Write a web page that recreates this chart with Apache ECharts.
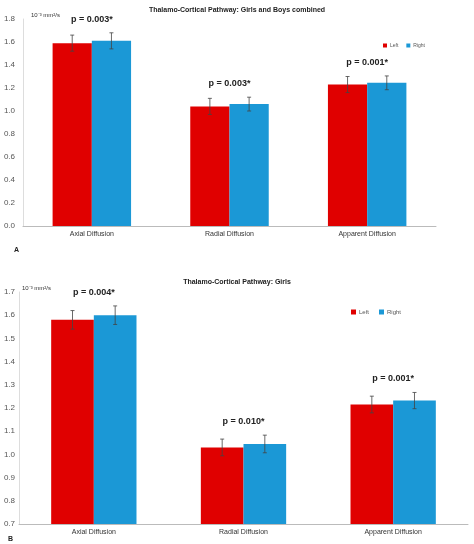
<!DOCTYPE html>
<html><head><meta charset="utf-8">
<script src="https://cdn.jsdelivr.net/npm/echarts@6/dist/echarts.min.js"></script>
<style>html,body{margin:0;background:#fff}#c{width:474px;height:544px}</style>
</head><body><div id="c"></div>
<script>
const categories = ['Axial Diffusion', 'Radial Diffusion', 'Apparent Diffusion'];
const leftA = [1.59, 1.04, 1.23];
const rightA = [1.61, 1.06, 1.245];
const leftErrA = [0.07, 0.07, 0.07];
const rightErrA = [0.07, 0.06, 0.06];
const pA = ['p = 0.003*', 'p = 0.003*', 'p = 0.001*'];
const leftB = [1.58, 1.03, 1.215];
const rightB = [1.60, 1.045, 1.232];
const leftErrB = [0.04, 0.036, 0.036];
const rightErrB = [0.04, 0.038, 0.035];
const pB = ['p = 0.004*', 'p = 0.010*', 'p = 0.001*'];
const RED = '#e00000', BLUE = '#1b98d6';
const font = 'Liberation Sans';

function errSeries(gi, vals, errs, side) {
  return {
    type: 'custom', xAxisIndex: gi, yAxisIndex: gi, z: 5, silent: true,
    data: vals.map((v, i) => [i, v - errs[i], v + errs[i]]),
    renderItem(params, api) {
      const i = api.value(0);
      const c = api.coord([i, 0]);
      const bw = api.size([1, 0])[0] * 0.57 / 2;
      const x = c[0] + side * bw / 2;
      const lo = api.coord([i, api.value(1)])[1];
      const hi = api.coord([i, api.value(2)])[1];
      const st = { stroke: '#444', lineWidth: 0.8 };
      return { type: 'group', children: [
        { type: 'line', shape: { x1: x, y1: lo, x2: x, y2: hi }, style: st },
        { type: 'line', shape: { x1: x - 2, y1: lo, x2: x + 2, y2: lo }, style: st },
        { type: 'line', shape: { x1: x - 2, y1: hi, x2: x + 2, y2: hi }, style: st }
      ]};
    }
  };
}
function pSeries(gi, l, r, le, re, labels) {
  return {
    type: 'custom', xAxisIndex: gi, yAxisIndex: gi, z: 6, silent: true,
    data: labels.map((t, i) => [i, Math.max(l[i] + le[i], r[i] + re[i])]),
    renderItem(params, api) {
      const i = api.value(0);
      const p = api.coord([i, api.value(1)]);
      return { type: 'text', x: p[0], y: p[1] - 9, style: {
        text: labels[i], textAlign: 'center', textVerticalAlign: 'bottom',
        font: 'bold 9px ' + font, fill: '#222' } };
    }
  };
}
function bars(gi, name, data, color) {
  return { type: 'bar', name, xAxisIndex: gi, yAxisIndex: gi, data,
    itemStyle: { color }, barGap: '0%', barCategoryGap: '43%' };
}
const axisLabel = { color: '#555', fontSize: 8, fontFamily: font };
const chart = echarts.init(document.getElementById('c'));
chart.setOption({
  animation: false,
  title: [
    { text: 'Thalamo-Cortical Pathway: Girls and Boys combined', left: 'center', top: 2,
      textStyle: { fontSize: 7, fontWeight: 'bold', fontFamily: font, color: '#222' } },
    { text: 'Thalamo-Cortical Pathway: Girls', left: 'center', top: 274,
      textStyle: { fontSize: 7, fontWeight: 'bold', fontFamily: font, color: '#222' } },
    { text: '10⁻³ mm²/s', left: 26, top: 7, textStyle: { fontSize: 6, fontWeight: 'normal', fontFamily: font, color: '#333' } },
    { text: '10⁻³ mm²/s', left: 17, top: 280, textStyle: { fontSize: 6, fontWeight: 'normal', fontFamily: font, color: '#333' } },
    { text: 'A', left: 9, top: 242, textStyle: { fontSize: 7, fontWeight: 'bold', fontFamily: font, color: '#222' } },
    { text: 'B', left: 3, top: 531, textStyle: { fontSize: 7, fontWeight: 'bold', fontFamily: font, color: '#222' } }
  ],
  legend: [
    { data: ['Left', 'Right'], left: 378, top: 38, itemWidth: 4, itemHeight: 4, itemGap: 8, icon: 'rect',
      textStyle: { fontSize: 5, color: '#555', fontFamily: font, padding: [0,0,0,-2] } },
    { data: ['Left', 'Right'], left: 346, top: 304, itemWidth: 5, itemHeight: 5, itemGap: 10, icon: 'rect',
      textStyle: { fontSize: 6, color: '#555', fontFamily: font, padding: [0,0,0,-2] } }
  ],
  grid: [
    { left: 23, right: 38, top: 19, bottom: 318 },
    { left: 19, right: 6, top: 292, bottom: 20 }
  ],
  xAxis: [0, 1].map(gi => ({ type: 'category', gridIndex: gi, data: categories,
    axisTick: { show: false }, axisLine: { lineStyle: { color: '#bbb' } },
    axisLabel: { ...axisLabel, fontSize: 7, color: '#333', margin: 5 } })),
  yAxis: [
    { type: 'value', gridIndex: 0, min: 0, max: 1.8, interval: 0.2,
      axisLabel: { ...axisLabel, formatter: v => v.toFixed(1) },
      splitLine: { show: false }, axisLine: { show: true, lineStyle: { color: '#ddd' } } },
    { type: 'value', gridIndex: 1, min: 0.7, max: 1.7, interval: 0.1,
      axisLabel: { ...axisLabel, formatter: v => v.toFixed(1), margin: 4 },
      splitLine: { show: false }, axisLine: { show: true, lineStyle: { color: '#ddd' } } }
  ],
  series: [
    bars(0, 'Left', leftA, RED), bars(0, 'Right', rightA, BLUE),
    bars(1, 'Left', leftB, RED), bars(1, 'Right', rightB, BLUE),
    errSeries(0, leftA, leftErrA, -1), errSeries(0, rightA, rightErrA, 1),
    errSeries(1, leftB, leftErrB, -1), errSeries(1, rightB, rightErrB, 1),
    pSeries(0, leftA, rightA, leftErrA, rightErrA, pA),
    pSeries(1, leftB, rightB, leftErrB, rightErrB, pB)
  ]
});
</script></body></html>
